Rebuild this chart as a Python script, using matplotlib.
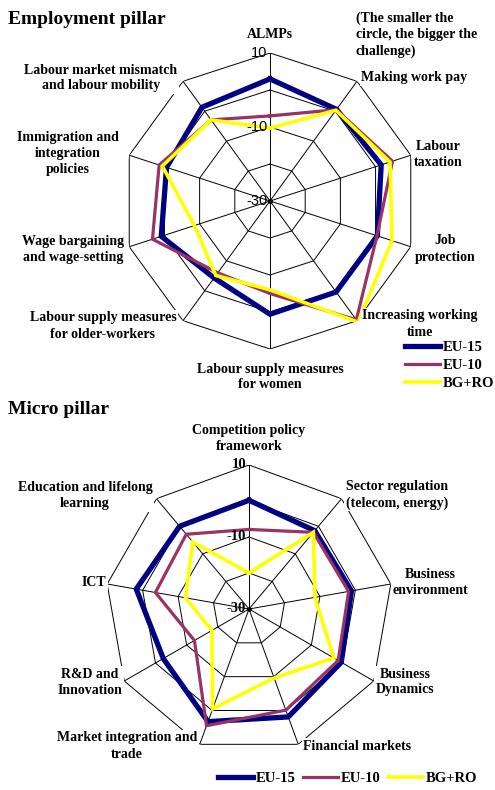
import numpy as np
import matplotlib
matplotlib.use("Agg")
import matplotlib.pyplot as plt

# --- data -------------------------------------------------------------
emp_labels = ["ALMPs", "Making work pay", "Labour\ntaxation", "Job\nprotection",
              "Increasing working\ntime", "Labour supply measures\nfor women",
              "Labour supply measures\nfor older-workers", "Wage bargaining\nand wage-setting",
              "Immigration and\nintegration\npolicies",
              "Labour market mismatch\nand labour mobility"]
emp_eu15 = [3.0, 0.6, 1.6, 0.5, 0.4, 0.6, -4.3, 0.9, -0.6, 1.3]
emp_eu10 = [-7.0, 0.5, 4.8, 0.4, 9.7, -5.0, -6.0, 3.4, 1.5, -2.9]
emp_bgro = [-10.3, 0.3, 4.1, 4.7, 10.5, -6.0, -5.1, -8.5, 0.6, -2.9]

mic_labels = ["Competition policy\nframework", "Sector regulation\n(telecom, energy)",
              "Business\nenvironment", "Business\nDynamics", "Financial markets",
              "Market integration and\ntrade", "R&D and\nInnovation", "ICT",
              "Education and lifelong\nlearning"]
mic_eu15 = [0.2, -1.6, -1.1, -0.4, 1.9, 3.3, -2.5, 1.8, 0.0]
mic_eu10 = [-7.9, -2.2, -1.9, -1.4, -0.1, 4.5, -12.5, -3.6, -2.9]
mic_bgro = [-20.0, -2.2, -11.4, -2.8, -9.6, -0.5, -18.1, -12.1, -5.7]

series_names = ["EU-15", "EU-10", "BG+RO"]
rings = [-20, -10, 0, 10]
tick_vals = [10, -10, -30]
rmin, rmax = -30, 10

colors = ["#000080", "#993366", "#FFFF00"]
widths = [3.8, 2.3, 2.6]

W, H = 495, 790
serif = "Liberation Serif"


def px(x, y):
    return x / W, 1 - y / H


def radar(rect, series, n, tick_font):
    ax = fig.add_axes(rect, projection="polar")
    ax.set_theta_zero_location("N")
    ax.set_theta_direction(-1)
    ax.set_ylim(rmin, rmax)
    ax.grid(False)
    ax.spines["polar"].set_visible(False)
    ax.set_xticks([])
    ax.set_yticks([])
    ax.patch.set_visible(False)

    theta = np.linspace(0, 2 * np.pi, n, endpoint=False)
    tc = np.append(theta, theta[0])
    for lv in rings:
        ax.plot(tc, [lv] * (n + 1), color="black", lw=0.7, zorder=1)
    for t in theta:
        ax.plot([t, t], [rmin, rmax], color="black", lw=0.7, zorder=1)
    ax.plot([0], [rmin], "o", color="black", ms=2.5, zorder=1)

    handles = []
    for vals, name, c, w in zip(series, series_names, colors, widths):
        v = np.append(vals, vals[0])
        h, = ax.plot(tc, v, color=c, lw=w, label=name, zorder=3,
                     solid_joinstyle="miter")
        handles.append(h)

    for tv in tick_vals:
        ax.annotate(str(tv), xy=(0, tv), xytext=(-2, 0), textcoords="offset points",
                    ha="right", va="center", zorder=4, **tick_font)
    return ax, handles


fig = plt.figure(figsize=(W / 100, H / 100), dpi=100)

# --- employment pillar ------------------------------------------------
cx, cy, R = 270, 201, 148
ax1, h1 = radar([(cx - R) / W, (H - cy - R) / H, 2 * R / W, 2 * R / H],
                [emp_eu15, emp_eu10, emp_bgro], len(emp_labels),
                dict(family="Liberation Sans", fontsize=10.5))

lab_font = dict(family=serif, fontweight="bold", fontsize=10, ha="center",
                va="center", linespacing=1.3, zorder=5,
                bbox=dict(facecolor="white", edgecolor="none", pad=1))
emp_pos = [(270, 35), (414, 78), (438, 154), (445, 249), (420, 324),
           (270, 377), (103, 326), (73, 249), (68, 153), (101, 78)]
for lab, (x, y) in zip(emp_labels, emp_pos):
    fig.text(*px(x, y), lab, **lab_font)

fig.text(*px(8, 20), "Employment pillar", family=serif, fontweight="bold",
         fontsize=14, ha="left", va="center")
fig.text(*px(356, 35), "(The smaller the\ncircle, the bigger the\nchallenge)",
         family=serif, fontweight="bold", fontsize=10, ha="left", va="center",
         linespacing=1.3)

fig.legend(handles=h1, loc="upper left", bbox_to_anchor=px(405, 341),
           frameon=False, prop=dict(family=serif, weight="bold", size=10.5),
           handlelength=2.4, handletextpad=0.2, labelspacing=0.32,
           borderpad=0, borderaxespad=0)

# --- micro pillar -----------------------------------------------------
cx, cy, R = 249, 609, 144
ax2, h2 = radar([(cx - R) / W, (H - cy - R) / H, 2 * R / W, 2 * R / H],
                [mic_eu15, mic_eu10, mic_bgro], len(mic_labels),
                dict(family=serif, fontweight="bold", fontsize=10.5))

mic_pos = [(249, 439), (397, 495), (430, 583), (405, 682), (357, 746),
           (127, 746), (90, 682), (94, 583), (85, 496)]
for lab, (x, y) in zip(mic_labels, mic_pos):
    fig.text(*px(x, y), lab, **lab_font)

fig.text(*px(8, 410), "Micro pillar", family=serif, fontweight="bold",
         fontsize=14, ha="left", va="center")

fig.legend(handles=h2, loc="center left", bbox_to_anchor=px(218, 778), ncol=3,
           frameon=False, prop=dict(family=serif, weight="bold", size=10.5),
           handlelength=2.4, handletextpad=0.2, columnspacing=0.5,
           borderpad=0, borderaxespad=0)

fig.savefig("out.png", dpi=100)
